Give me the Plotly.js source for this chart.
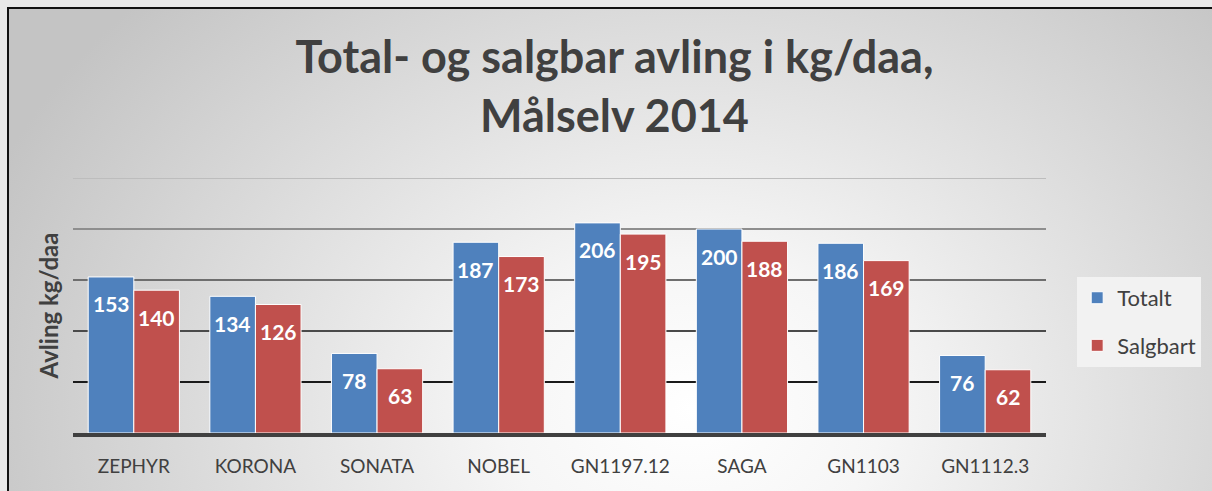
<!DOCTYPE html>
<html><head><meta charset="utf-8">
<script src="https://cdn.plot.ly/plotly-3.0.1.min.js"></script>
<style>
html,body{margin:0;padding:0;background:#e8e8e8;width:1212px;height:491px;overflow:hidden;}
#frame{position:absolute;left:7px;top:7px;width:1220px;height:500px;border:2px solid #111;
background:radial-gradient(ellipse 62% 120% at 56% 80%, #ffffff 0%, #f6f6f6 25%, #c4c4c4 100%);}
#chart{position:absolute;left:0;top:0;width:1212px;height:491px;}
</style></head><body>
<div id="frame"></div><div id="chart"></div>
<script>
const categories = ["ZEPHYR","KORONA","SONATA","NOBEL","GN1197.12","SAGA","GN1103","GN1112.3"];
const totalt = [153,134,78,187,206,200,186,76];
const salgbart = [140,126,63,173,195,188,169,62];
const gridValues = [50,100,150,200,250];
const gridColors = ["#1a1a1a","#4a4a4a","#6e6e6e","#8e8e8e","#bdbdbd"];

const FONT = "Lato, 'Open Sans', sans-serif";
const textCol = "#404040";

const traces = [
  {type:"bar", name:"Totalt", x:categories, y:totalt, legendgroup:"a",
   marker:{color:"#4f81bd", line:{color:"#ffffff", width:1}}, hoverinfo:"none"},
  {type:"bar", name:"Salgbart", x:categories, y:salgbart, legendgroup:"b",
   marker:{color:"#c0504d", line:{color:"#ffffff", width:1}}, hoverinfo:"none"}
];

const annotations = [];
categories.forEach((c,i)=>{
  annotations.push({x:c, y:totalt[i], xref:"x", yref:"y", text:String(totalt[i]), showarrow:false,
    xshift:-22.8, yshift:-27, font:{family:FONT, size:21, color:"#ffffff", weight:"bold"}});
  annotations.push({x:c, y:salgbart[i], xref:"x", yref:"y", text:String(salgbart[i]), showarrow:false,
    xshift:22.8, yshift:-27, font:{family:FONT, size:21, color:"#ffffff", weight:"bold"}});
});

const shapes = gridValues.map((v,i)=>({type:"line", xref:"paper", yref:"y", x0:0, x1:1, y0:v, y1:v,
  layer:"below", line:{color:gridColors[i], width:2}}));

const layout = {
  width:1212, height:491,
  paper_bgcolor:"rgba(0,0,0,0)", plot_bgcolor:"rgba(0,0,0,0)",
  margin:{l:73, r:165, t:178, b:58},
  font:{family:FONT, color:textCol},
  title:{text:"Total- og salgbar avling i kg/daa,<br>Målselv 2014", xref:"container", x:0.507,
    yref:"container", y:1-73/491, yanchor:"middle",
    font:{family:FONT, size:45, color:textCol, weight:"bold"}},
  barmode:"group", bargap:0.25, bargroupgap:0,
  xaxis:{showgrid:false, showline:true, linecolor:"#404040", linewidth:4, ticks:"",
    tickfont:{family:FONT, size:19, color:textCol, weight:"normal"}, ticklabelstandoff:13, fixedrange:true},
  yaxis:{range:[0,250], showgrid:false, zeroline:false, showticklabels:false, showline:false,
    title:{text:"Avling kg/daa", standoff:6, font:{family:FONT, size:24, color:textCol, weight:"bold"}}},
  legend:{x:1.031, xanchor:"left", y:0.612, yanchor:"top", bgcolor:"#f2f2f2",
    font:{family:FONT, size:22, color:textCol}, traceorder:"grouped", tracegroupgap:16, itemwidth:30},
  shapes:shapes,
  annotations:annotations
};

Plotly.newPlot("chart", traces, layout, {displayModeBar:false, staticPlot:true});
</script>
</body></html>
